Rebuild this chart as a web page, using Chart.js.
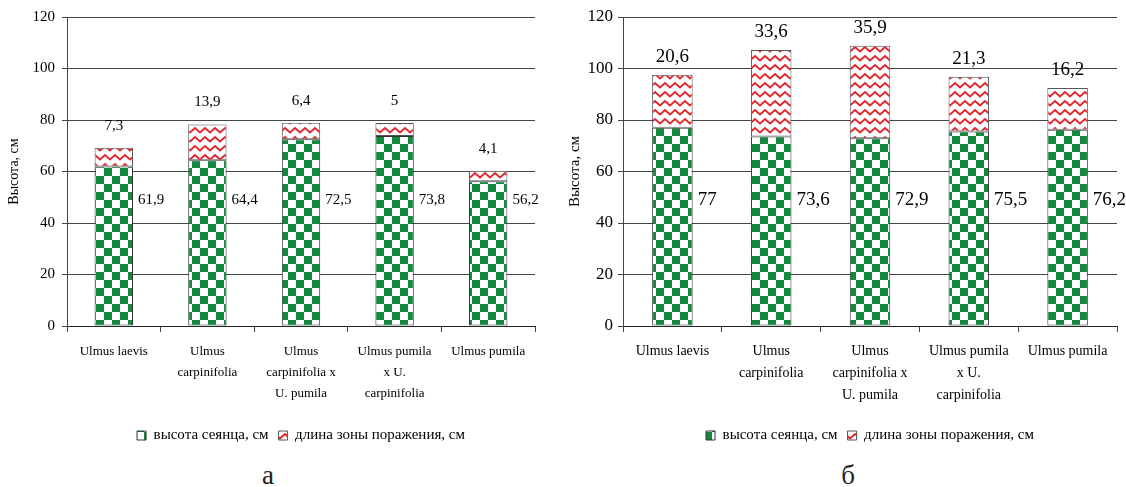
<!DOCTYPE html>
<html lang="ru">
<head>
<meta charset="utf-8">
<script src="https://cdn.jsdelivr.net/npm/chart.js@4.4.0/dist/chart.umd.min.js"></script>
<style>
  html, body { margin: 0; padding: 0; background: #fff; }
  body { width: 1126px; height: 487px; position: relative; overflow: hidden; font-family: 'Liberation Serif', serif; }
  .panel { position: absolute; top: 0; height: 460px; }
  #boxA { left: 0; width: 560px; }
  #boxB { left: 560px; width: 566px; }
  .letter { position: absolute; top: 462px; font-size: 27px; line-height: 27px; color: #222; transform: translateX(-50%); }
</style>
</head>
<body>
<div class="panel" id="boxA"><canvas id="chartA"></canvas></div>
<div class="panel" id="boxB"><canvas id="chartB"></canvas></div>
<div class="letter" style="left:268px">а</div>
<div class="letter" style="left:848px">б</div>
<script>
// data
const categories = [
  ['Ulmus laevis'],
  ['Ulmus', 'carpinifolia'],
  ['Ulmus', 'carpinifolia x', 'U. pumila'],
  ['Ulmus pumila', 'x U.', 'carpinifolia'],
  ['Ulmus pumila']
];
const seedlingA = [61.9, 64.4, 72.5, 73.8, 56.2];
const damageA = [7.3, 13.9, 6.4, 5, 4.1];
const seedlingB = [77, 73.6, 72.9, 75.5, 76.2];
const damageB = [20.6, 33.6, 35.9, 21.3, 16.2];
const yMin = 0, yMax = 120, yStep = 20;
const seriesNames = ['высота сеянца, см', 'длина зоны поражения, см'];
const yTitle = 'Высота, см';

Chart.defaults.font.family = "'Liberation Serif', 'Times New Roman', serif";
Chart.defaults.color = '#000';

// fill patterns like the Excel ones
function checkerPattern() {
  const c = document.createElement('canvas');
  c.width = 16; c.height = 16;
  const g = c.getContext('2d');
  g.fillStyle = '#fff';
  g.fillRect(0, 0, 16, 16);
  g.fillStyle = '#128a3e';
  g.fillRect(0, 0, 8, 8);
  g.fillRect(8, 8, 8, 8);
  return g.createPattern(c, 'repeat');
}

function wavePattern() {
  const c = document.createElement('canvas');
  c.width = 10; c.height = 9;
  const g = c.getContext('2d');
  g.fillStyle = '#fff';
  g.fillRect(0, 0, 10, 9);
  g.strokeStyle = '#e2262c';
  g.lineWidth = 2;
  g.beginPath();
  g.moveTo(-2.5, 4);
  g.lineTo(0, 6.5);
  g.lineTo(5, 2);
  g.lineTo(10, 6.5);
  g.lineTo(12.5, 4);
  g.stroke();
  return g.createPattern(c, 'repeat');
}

const fmt = v => String(v).replace('.', ',');

const valueLabels = {
  id: 'valueLabels',
  afterDatasetsDraw(chart, args, opts) {
    const ctx = chart.ctx;
    const ys = chart.scales.y;
    ctx.save();
    ctx.fillStyle = '#000';
    ctx.font = opts.size + "px 'Liberation Serif'";
    ctx.textBaseline = 'middle';
    chart.getDatasetMeta(0).data.forEach((bar, i) => {
      ctx.textAlign = 'left';
      ctx.fillText(fmt(chart.data.datasets[0].data[i]), bar.x + bar.width / 2 + opts.gap, ys.getPixelForValue(opts.innerAt));
    });
    chart.getDatasetMeta(1).data.forEach((bar, i) => {
      ctx.textAlign = 'center';
      ctx.fillText(fmt(chart.data.datasets[1].data[i]), bar.x, bar.y - opts.lift);
    });
    ctx.restore();
  }
};

function makeChart(id, seedling, damage, cfg) {
  return new Chart(document.getElementById(id), {
    type: 'bar',
    data: {
      labels: categories,
      datasets: [
        {
          label: seriesNames[0],
          data: seedling,
          backgroundColor: checkerPattern(),
          borderColor: '#333',
          borderWidth: 1,
          borderSkipped: false,
          categoryPercentage: 1,
          barPercentage: 0.41
        },
        {
          label: seriesNames[1],
          data: damage,
          backgroundColor: wavePattern(),
          borderColor: '#555',
          borderWidth: 1,
          borderSkipped: false,
          categoryPercentage: 1,
          barPercentage: 0.41
        }
      ]
    },
    options: {
      responsive: true,
      maintainAspectRatio: false,
      animation: false,
      layout: { padding: { left: 0, right: cfg.padRight, top: 17, bottom: 7 } },
      scales: {
        x: {
          stacked: true,
          grid: { drawOnChartArea: false, color: '#444', tickLength: 6 },
          border: { color: '#222' },
          ticks: { maxRotation: 0, autoSkip: false, padding: 9, font: { size: cfg.catSize, lineHeight: cfg.catLine } },
          afterFit: s => { s.height = 92; }
        },
        y: {
          stacked: true,
          min: yMin,
          max: yMax,
          ticks: { stepSize: yStep, padding: cfg.tickPad, font: { size: cfg.tickSize } },
          grid: { color: '#444', tickLength: 5 },
          border: { color: '#444' },
          title: { display: true, text: yTitle, font: { size: cfg.titleSize }, padding: { top: 6, bottom: 0 } },
          afterFit: s => { s.width = cfg.yWidth; }
        }
      },
      plugins: {
        legend: {
          position: 'bottom',
          fullSize: false,
          labels: { boxWidth: 9, boxHeight: 9, padding: 10, font: { size: 15 } }
        },
        tooltip: { enabled: false },
        valueLabels: { size: cfg.labelSize, gap: 5, innerAt: 49, lift: cfg.lift }
      }
    },
    plugins: [valueLabels]
  });
}

makeChart('chartA', seedlingA, damageA, {
  padRight: 25, yWidth: 67, tickPad: 7, tickSize: 15, catSize: 13, catLine: 1.62,
  titleSize: 14, labelSize: 15, lift: 22
});
makeChart('chartB', seedlingB, damageB, {
  padRight: 9, yWidth: 63, tickPad: 5, tickSize: 17, catSize: 14, catLine: 1.54,
  titleSize: 15, labelSize: 19, lift: 18
});
</script>
</body>
</html>
